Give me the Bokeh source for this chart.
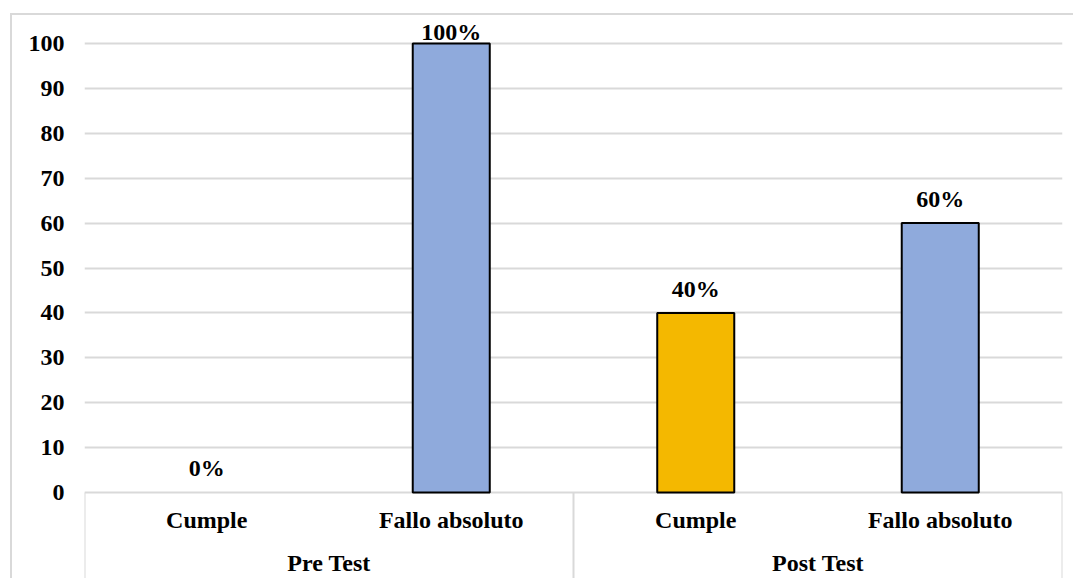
from bokeh.plotting import figure
from bokeh.models import FactorRange, Range1d, ColumnDataSource, FixedTicker
from bokeh.embed import file_html
from bokeh.resources import INLINE

# ---- data ----
groups = ["Pre Test", "Post Test"]
categories = ["Cumple", "Fallo absoluto"]
percent = [0, 100, 40, 60]          # Pre Test (Cumple, Fallo), Post Test (Cumple, Fallo)
y_ticks = [0, 10, 20, 30, 40, 50, 60, 70, 80, 90, 100]

FONT = "Liberation Serif"
FS = "24px"
GRID = "#D9D9D9"
palette = {"Cumple": "#F4B800", "Fallo absoluto": "#8FAADC"}

factors = [(g, c) for g in groups for c in categories]
source = ColumnDataSource(dict(
    x=factors,
    top=percent,
    color=[palette[c] for _, c in factors],
    line_alpha=[1.0 if v > 0 else 0.0 for v in percent],
    label=[f"{v}%" for v in percent],
    # value labels sit above the bar; the one at the top of the scale is pulled down
    label_offset=[-12 if v >= max(y_ticks) else -24 for v in percent],
))

Y_LOW = -19.6    # room under zero for the category labels
Y_HIGH = 106.24

p = figure(
    width=1063, height=565,
    x_range=FactorRange(*factors, factor_padding=0, group_padding=0,
                        subgroup_padding=0, range_padding=0),
    y_range=Range1d(Y_LOW, Y_HIGH),
    output_backend="svg", toolbar_location=None,
    min_border_left=72, min_border_right=13, min_border_top=0, min_border_bottom=0,
)
# light frame around the chart area (left and top edges)
p.styles = {
    "margin-left": "10px", "margin-top": "13px",
    "border-left": f"2px solid {GRID}", "border-top": f"2px solid {GRID}",
}
p.outline_line_color = None
p.background_fill_color = "white"
p.border_fill_color = "white"

# y axis
p.yaxis.ticker = FixedTicker(ticks=y_ticks)
p.yaxis.axis_line_color = None
p.yaxis.major_tick_line_color = None
p.yaxis.minor_tick_line_color = None
p.yaxis.major_tick_out = 0
p.yaxis.major_label_standoff = 20
p.yaxis.major_label_text_font = FONT
p.yaxis.major_label_text_font_style = "bold"
p.yaxis.major_label_text_font_size = FS
p.yaxis.major_label_text_color = "black"
p.xaxis.visible = False

# grid
p.xgrid.grid_line_color = None
p.ygrid.ticker = FixedTicker(ticks=y_ticks)
p.ygrid.grid_line_color = GRID
p.ygrid.grid_line_width = 2

# bars
p.vbar(x="x", top="top", width=0.315, source=source, fill_color="color",
       line_color="black", line_width=2, line_alpha="line_alpha")

# value labels
p.text(x="x", y="top", text="label", source=source, y_offset="label_offset",
       text_align="center", text_baseline="middle", text_font=FONT,
       text_font_style="bold", text_font_size=FS, text_color="black")

# category labels under the zero line
p.text(x=factors, y=[-6.2] * len(factors), text=[c for _, c in factors],
       text_align="center", text_baseline="middle", text_font=FONT,
       text_font_style="bold", text_font_size=FS, text_color="black")
p.text(x=groups, y=[-15.6] * len(groups), text=groups,
       text_align="center", text_baseline="middle", text_font=FONT,
       text_font_style="bold", text_font_size=FS, text_color="black")

# group separators of the category axis
sep_x = [(groups[0], categories[0], -0.5), (groups[1], categories[0], -0.5),
         (groups[1], categories[-1], 0.5)]
p.segment(x0=sep_x, y0=[0] * 3, x1=sep_x, y1=[Y_LOW] * 3,
          line_color=GRID, line_width=2)

open("out.html", "w").write(file_html(p, INLINE))
